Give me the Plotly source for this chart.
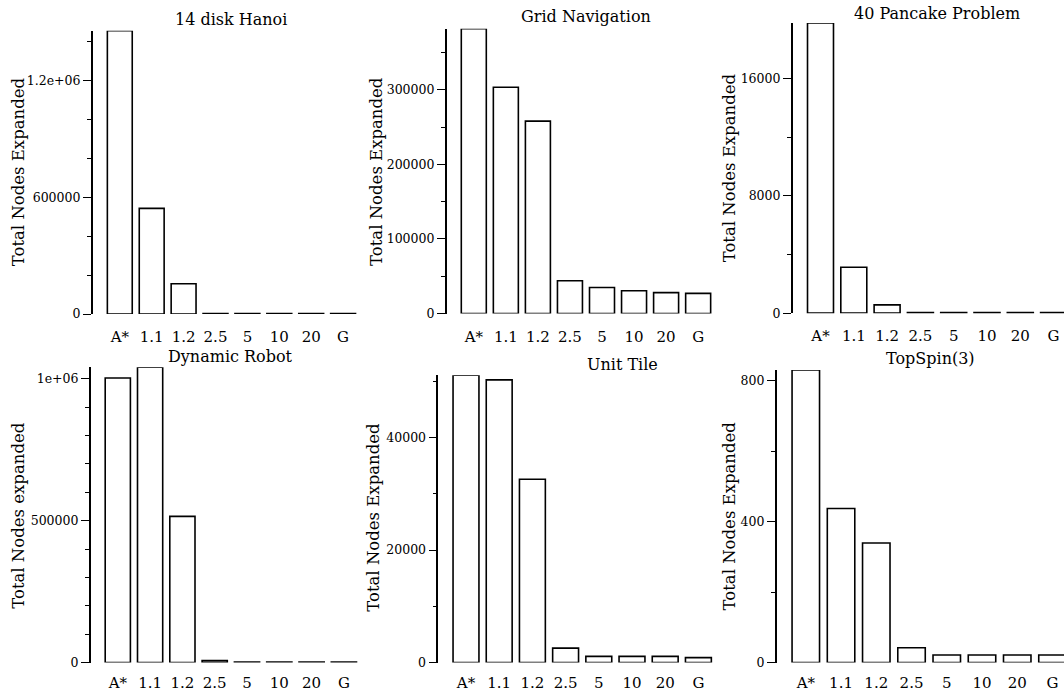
import plotly.graph_objects as go

# ---------------- data ----------------
categories = ["A*", "1.1", "1.2", "2.5", "5", "10", "20", "G"]

hanoi = [1458000, 544000, 156000, 3000, 2500, 2500, 2500, 2500]
grid_nav = [382000, 303500, 258000, 44000, 35000, 30500, 28000, 27000]
pancake = [19780, 3128, 563, 40, 40, 40, 40, 40]
dyn_robot = [1002000, 1040000, 515000, 7000, 1500, 1500, 1500, 1500]
unit_tile = [51100, 50264, 32600, 2580, 1110, 1100, 1100, 880]
topspin = [830, 437, 339, 42, 21.5, 21.5, 21.5, 21.5]

titles = ["14 disk Hanoi", "Grid Navigation", "40 Pancake Problem",
          "Dynamic Robot", "Unit Tile", "TopSpin(3)"]
ylabels = ["Total Nodes Expanded", "Total Nodes Expanded", "Total Nodes Expanded",
           "Total Nodes expanded", "Total Nodes Expanded", "Total Nodes Expanded"]

major_ticks = [[0, 600000, 1200000], [0, 100000, 200000, 300000], [0, 8000, 16000],
               [0, 500000, 1000000], [0, 20000, 40000], [0, 400, 800]]
major_text = [["0", "600000", "1.2e+06"], ["0", "100000", "200000", "300000"],
              ["0", "8000", "16000"], ["0", "500000", "1e+06"],
              ["0", "20000", "40000"], ["0", "400", "800"]]
minor_step = [200000, 50000, 4000, 100000, 10000, 200]

series = [hanoi, grid_nav, pancake, dyn_robot, unit_tile, topspin]

# ---------------- layout geometry (pixels) ----------------
W, H = 1064, 698
# axis x, A* center, spacing, right range, zero y, top y
geo = [
    dict(xa=92.7, c0=119.8, s=31.9, R=7.5, y0=317.3, y1=31.0),
    dict(xa=446.7, c0=473.8, s=32.05, R=7.5, y0=316.7, y1=29.0),
    dict(xa=792.7, c0=820.5, s=33.3, R=None, y0=316.3, y1=23.3),
    dict(xa=90.7, c0=117.8, s=32.3, R=7.5, y0=669.3, y1=371.0),
    dict(xa=438.3, c0=466.0, s=33.2, R=7.5, y0=669.3, y1=379.0),
    dict(xa=776.7, c0=805.8, s=35.24, R=None, y0=669.3, y1=373.7),
]
title_pos = [(230.5, 20), (585.8, 16.5), (936.7, 13.5), (230.8, 360), (622, 368.5), (930, 362.5)]
ylabel_pos = [(18, 174), (376.7, 173), (729, 170), (19, 521), (374, 523), (729, 521.7)]

FONT = "DejaVu Serif"

fig = go.Figure()
layout = dict(
    width=W, height=H, margin=dict(l=0, r=0, t=0, b=0),
    paper_bgcolor="white", plot_bgcolor="white", showlegend=False,
    font=dict(family=FONT, color="black"),
)
annotations = []

for i, (vals, g) in enumerate(zip(series, geo)):
    n = i + 1
    xs = "x" if n == 1 else f"x{n}"
    ys = "y" if n == 1 else f"y{n}"
    xk = "xaxis" if n == 1 else f"xaxis{n}"
    yk = "yaxis" if n == 1 else f"yaxis{n}"

    L = (g["xa"] - g["c0"]) / g["s"]
    R = g["R"] if g["R"] is not None else (W - g["c0"]) / g["s"]
    xr_px = g["c0"] + R * g["s"]
    ymax = max(vals)

    fig.add_trace(go.Bar(
        x=list(range(len(categories))), y=vals, width=0.78,
        marker=dict(color="white", line=dict(color="black", width=1.6)),
        xaxis=xs, yaxis=ys, hoverinfo="skip",
    ))

    top_row = i < 3
    layout[xk] = dict(
        domain=[g["xa"] / W, min(xr_px / W, 1.0)],
        range=[L, R], anchor=ys,
        tickmode="array", tickvals=list(range(len(categories))), ticktext=categories,
        showline=False, zeroline=False, showgrid=False,
        ticks="outside", ticklen=(9 if top_row else 6), tickcolor="rgba(0,0,0,0)",
        tickfont=dict(family=FONT, size=15, color="black"),
    )
    layout[yk] = dict(
        domain=[1 - g["y0"] / H, 1 - g["y1"] / H],
        range=[0, ymax], anchor=xs,
        tickmode="array", tickvals=major_ticks[i], ticktext=major_text[i],
        showline=True, linecolor="black", linewidth=1.5,
        zeroline=False, showgrid=False,
        ticks="outside", ticklen=8, tickwidth=1.2, tickcolor="black",
        tickfont=dict(family=FONT, size=12.5, color="black"),
        minor=dict(tickmode="linear", tick0=0, dtick=minor_step[i], ticklen=4,
                   tickwidth=1, tickcolor="black", ticks="outside", showgrid=False),
    )

    tx, ty = title_pos[i]
    annotations.append(dict(
        text=titles[i], x=tx / W, y=1 - ty / H, xref="paper", yref="paper",
        xanchor="center", yanchor="middle", showarrow=False,
        font=dict(family=FONT, size=16, color="black"),
    ))
    lx, ly = ylabel_pos[i]
    annotations.append(dict(
        text=ylabels[i], x=lx / W, y=1 - ly / H, xref="paper", yref="paper",
        xanchor="center", yanchor="middle", showarrow=False, textangle=-90,
        font=dict(family=FONT, size=16.5, color="black"),
    ))

layout["annotations"] = annotations
fig.update_layout(**layout)
fig.write_html("out.html")
